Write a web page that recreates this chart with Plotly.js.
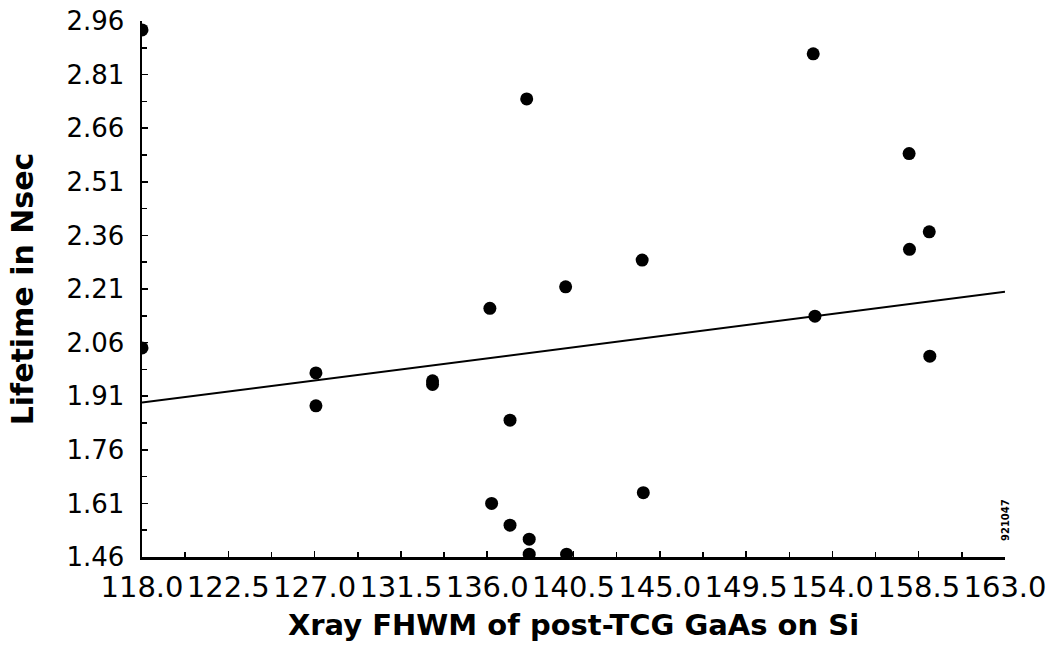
<!DOCTYPE html>
<html>
<head>
<meta charset="utf-8">
<script src="https://cdn.plot.ly/plotly-3.0.1.min.js"></script>
<style>html,body{margin:0;padding:0;background:#fff;}#chart{width:1053px;height:658px;}</style>
</head>
<body>
<div id="chart"></div>
<script>
// Measured points: Xray FHWM (x) vs lifetime in ns (y)
var fwhm = [118.0, 118.0, 127.07, 127.07, 133.15, 133.15, 136.14, 138.06, 140.09, 144.08,
            137.19, 136.23, 137.19, 138.19, 138.19, 140.14, 144.14, 153.0, 158.0, 159.05,
            158.02, 153.09, 159.08];
var lifetime = [2.935, 2.045, 1.975, 1.883, 1.953, 1.943, 2.156, 2.742, 2.216, 2.291,
                1.843, 1.610, 1.549, 1.510, 1.468, 1.468, 1.640, 2.868, 2.589, 2.370,
                2.321, 2.134, 2.022];
// Regression line end points
var fitX = [118.0, 163.0];
var fitY = [1.892, 2.202];
// Tick labels
var xTicks = [118.0, 122.5, 127.0, 131.5, 136.0, 140.5, 145.0, 149.5, 154.0, 158.5, 163.0];
var yTicks = [1.46, 1.61, 1.76, 1.91, 2.06, 2.21, 2.36, 2.51, 2.66, 2.81, 2.96];

var FONT = 'DejaVu Sans, Liberation Sans, Arial, sans-serif';

var traces = [
  {x: fitX, y: fitY, type: 'scatter', mode: 'lines',
   line: {color: '#000', width: 2}, hoverinfo: 'skip', showlegend: false},
  {x: fwhm, y: lifetime, type: 'scatter', mode: 'markers',
   marker: {color: '#000', size: 13}, showlegend: false}
];

var layout = {
  width: 1053, height: 658,
  margin: {l: 142, r: 48, t: 21, b: 101, autoexpand: false},
  paper_bgcolor: '#fff', plot_bgcolor: '#fff',
  font: {family: FONT, color: '#000'},
  showlegend: false,
  xaxis: {
    range: [118, 163], tickvals: xTicks, ticktext: xTicks.map(function(v){return v.toFixed(1);}),
    ticks: 'inside', ticklen: 6, tickwidth: 1.5, tickcolor: '#000',
    minor: {dtick: 2.25, tick0: 118, ticks: 'inside', ticklen: 5, tickwidth: 1.5, tickcolor: '#000'},
    showline: true, linecolor: '#000', linewidth: 2.5, showgrid: false, zeroline: false,
    tickfont: {size: 29, family: FONT},
    ticklabelstandoff: 3,
    title: {text: 'Xray FHWM of post-TCG GaAs on Si', standoff: 12,
            font: {size: 29, family: FONT, weight: 'bold'}},
    automargin: false, fixedrange: true
  },
  yaxis: {
    range: [1.46, 2.96], tickvals: yTicks, ticktext: yTicks.map(function(v){return v.toFixed(2);}),
    ticks: 'inside', ticklen: 6, tickwidth: 1.5, tickcolor: '#000',
    minor: {dtick: 0.075, tick0: 1.46, ticks: 'inside', ticklen: 5, tickwidth: 1.5, tickcolor: '#000'},
    showline: true, linecolor: '#000', linewidth: 2.5, showgrid: false, zeroline: false,
    tickfont: {size: 26, family: FONT},
    ticklabelstandoff: 10,
    title: {text: 'Lifetime in Nsec', standoff: 24,
            font: {size: 30, family: FONT, weight: 'bold'}},
    automargin: false, fixedrange: true
  },
  annotations: [
    {text: '921047', xref: 'x', yref: 'y', x: 163, y: 1.46, xanchor: 'center', yanchor: 'bottom',
     xshift: 0, yshift: 14, textangle: -90, showarrow: false,
     font: {size: 10, family: FONT, weight: 'bold', color: '#000'}}
  ]
};

Plotly.newPlot('chart', traces, layout, {displayModeBar: false, staticPlot: true});
</script>
</body>
</html>
